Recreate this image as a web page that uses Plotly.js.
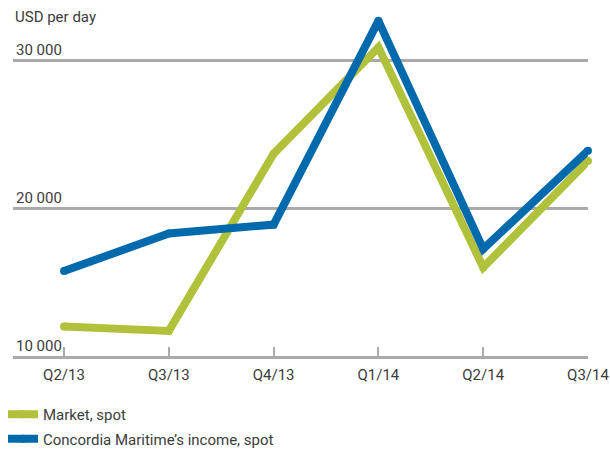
<!DOCTYPE html>
<html>
<head>
<meta charset="utf-8">
<script src="https://cdn.plot.ly/plotly-3.0.1.min.js"></script>
<style>html,body{margin:0;padding:0;background:#fff}</style>
</head>
<body>
<div id="chart" style="width:610px;height:450px"></div>
<script>
const quarters = ["Q2/13", "Q3/13", "Q4/13", "Q1/14", "Q2/14", "Q3/14"];
const marketSpot = [12000, 11700, 23700, 30900, 16000, 23200];
const concordiaSpot = [15750, 18300, 18900, 32700, 17250, 23900];
const yTicks = [10000, 20000, 30000];
const seriesNames = ["Market, spot", "Concordia Maritime\u2019s income, spot"];

const green = "#b1c13b";
const blue = "#006aad";
const gray = "#aaaaaa";
const textColor = "#3c3c3c";
const fs = 15;

const traces = [
  {x: quarters, y: marketSpot, name: seriesNames[0], legendgroup: "a"},
  {x: quarters, y: concordiaSpot, name: seriesNames[1], legendgroup: "b"}
].map((t, i) => Object.assign(t, {
  type: "scatter",
  mode: "lines+markers",
  cliponaxis: false,
  line: {color: i === 0 ? green : blue, width: 8},
  marker: {color: i === 0 ? green : blue, size: 8, line: {width: 0}},
  hoverinfo: "skip"
}));

const layout = {
  width: 610, height: 450,
  margin: {l: 13, r: 22, t: 9, b: 94, autoexpand: false},
  paper_bgcolor: "#fff", plot_bgcolor: "#fff",
  separators: ". ",
  font: {family: "Roboto, 'DejaVu Sans', sans-serif", size: fs, color: textColor},
  showlegend: true,
  legend: {xref: "container", yref: "container", x: 3 / 610, xanchor: "left",
           y: 1 - 398 / 450, yanchor: "top", orientation: "v",
           tracegroupgap: 2, font: {size: fs, color: textColor}, bgcolor: "rgba(0,0,0,0)"},
  xaxis: {
    type: "category", range: [-0.487, 5],
    showgrid: false, zeroline: false,
    showline: true, linecolor: gray, linewidth: 3,
    ticks: "inside", ticklen: 9, tickwidth: 2, tickcolor: gray,
    ticklabelstandoff: 3,
    tickfont: {size: fs, color: textColor}, fixedrange: true
  },
  yaxis: {
    range: [10000, 33500], tickvals: yTicks, tickformat: ",d",
    ticklabelposition: "inside top",
    showgrid: true, gridcolor: gray, gridwidth: 3,
    zeroline: false, showline: false, ticks: "",
    tickfont: {size: fs, color: textColor}, fixedrange: true
  },
  annotations: [{
    text: "USD per day", xref: "paper", yref: "paper",
    x: 0, y: 0.977, xanchor: "left", yanchor: "middle", showarrow: false,
    font: {size: fs, color: textColor}
  }]
};

Plotly.newPlot("chart", traces, layout, {displayModeBar: false, staticPlot: true});
</script>
</body>
</html>
